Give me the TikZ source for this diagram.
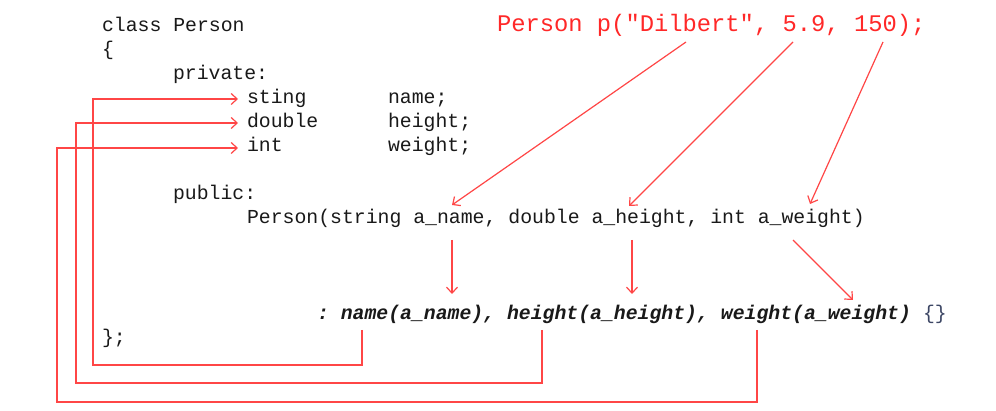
\documentclass[tikz,border=0pt]{standalone}
\usepackage{fontspec}
\setmonofont{Liberation Mono}
\usetikzlibrary{arrows.meta}
\definecolor{codeblack}{RGB}{25,25,25}
\definecolor{codered}{RGB}{255,40,40}
\definecolor{linered}{RGB}{255,70,70}
\definecolor{bracecol}{RGB}{60,70,100}
\begin{document}
\begin{tikzpicture}[x=1pt,y=-1pt,
  code/.style={anchor=base west, inner sep=0pt, outer sep=0pt,
    font=\ttfamily\fontsize{19.8}{24}\selectfont, text=codeblack},
  redcode/.style={code, font=\ttfamily\fontsize{23.8}{28}\selectfont, text=codered},
  bicode/.style={code, font=\ttfamily\bfseries\itshape\fontsize{19.8}{24}\selectfont},
  link/.style={draw=linered, line width=1.2pt, line join=miter,
    -{Straight Barb[length=6pt,width=11pt,line width=1.2pt]}}]
\path[use as bounding box, fill=white] (0,0) rectangle (996,411);

% class declaration
\node[code] (cls) at (102,32) {class Person};
\node[code] (open) at (102,56) {\{};
\node[code] (priv) at (173,80) {private:};
\node[code] (tstr) at (247,104) {sting};
\node[code] (vname) at (388,104) {name;};
\node[code] (tdbl) at (247,128) {double};
\node[code] (vheight) at (388,128) {height;};
\node[code] (tint) at (247,152) {int};
\node[code] (vweight) at (388,152) {weight;};
\node[code] (pub) at (173,200) {public:};
\node[code] (cpre) at (247,224) {Person(string};
\node[code] (can) at (413.3,224) {a\_name,};
\node[code] (cdb) at (508.4,224) {double};
\node[code] (cah) at (591.5,224) {a\_height,};
\node[code] (cint) at (710.3,224) {int};
\node[code] (caw) at (757.8,224) {a\_weight)};
\node[code] (close) at (102,344) {\};};

% initialiser list
\node[bicode] (bcol) at (317,320) {:};
\node[bicode] (bname) at (340.8,320) {name(a\_name),};
\node[bicode] (bheight) at (507,320) {height(a\_height),};
\node[bicode] (bweight) at (720.9,320) {weight(a\_weight)};
\node[code, text=bracecol] (bbr) at (923,320) {\{\}};

% call
\node[redcode] (rpre) at (497,32) {Person p(};
\node[redcode] (rdil) at (625.5,32) {"Dilbert",};
\node[redcode] (r59) at (782.6,32) {5.9,};
\node[redcode] (r150) at (854,32) {150);};

% connector end points
\coordinate (dilFoot) at (686,42);
\coordinate (numFoot) at (793,42);
\coordinate (wFoot) at (883,42);
\coordinate (anTop) at (452,205);
\coordinate (ahTop) at (629,206);
\coordinate (awTop) at (810,204);
\coordinate (anFoot) at (452,240);
\coordinate (ahFoot) at (632,240);
\coordinate (awFoot) at (793,240);
\coordinate (bnTop) at (452,294);
\coordinate (bhTop) at (632,294);
\coordinate (bwTop) at (853,300);

\coordinate (nTail) at (362,330);
\coordinate (hTail) at (542,330);
\coordinate (wTail) at (757,330);
\coordinate (nIn) at (238,99);
\coordinate (hIn) at (238,123);
\coordinate (wIn) at (238,148);

% arguments
\draw[link] (dilFoot) -- (anTop);
\draw[link] (numFoot) -- (ahTop);
\draw[link] (wFoot) -- (awTop);
\draw[link] (anFoot) -- (bnTop);
\draw[link] (ahFoot) -- (bhTop);
\draw[link] (awFoot) -- (bwTop);

% initialisers back to members
\draw[link] (nTail) -- (362,365) -- (93,365) -- (93,99) -- (nIn);
\draw[link] (hTail) -- (542,383) -- (76,383) -- (76,123) -- (hIn);
\draw[link] (wTail) -- (757,402) -- (57,402) -- (57,148) -- (wIn);
\end{tikzpicture}
\end{document}
